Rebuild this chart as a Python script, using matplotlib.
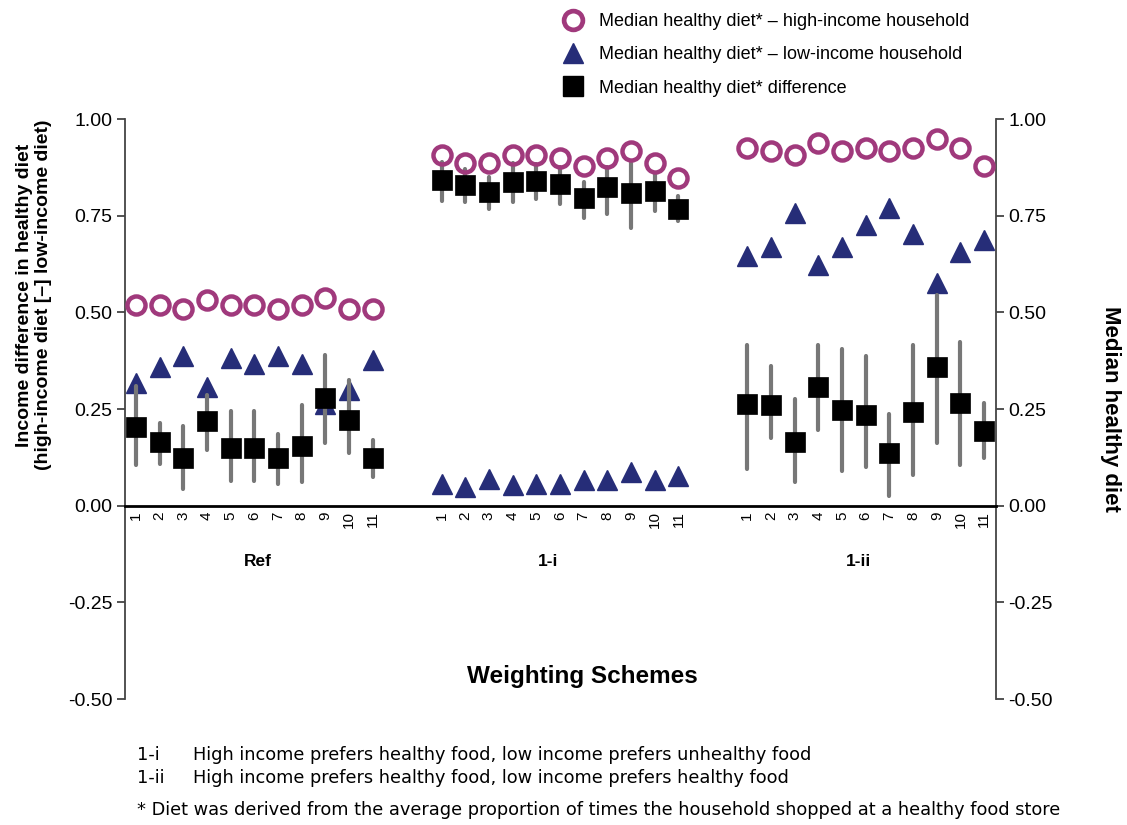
import numpy as np
from matplotlib import pyplot as plt
from matplotlib.lines import Line2D
from matplotlib.ticker import FormatStrFormatter

plt.rcParams['font.family'] = ['Liberation Sans', 'DejaVu Sans']

# %% Data ---------------------------------------------------------------------------------------------------------------
schemes = [str(i) for i in range(1, 12)]
groups = ["Ref", "1-i", "1-ii"]

# median healthy diet, high-income household
ref_high = [0.518, 0.518, 0.509, 0.533, 0.518, 0.518, 0.509, 0.518, 0.538, 0.509, 0.509]
i_high = [0.908, 0.886, 0.886, 0.908, 0.908, 0.900, 0.878, 0.900, 0.917, 0.886, 0.847]
ii_high = [0.925, 0.918, 0.907, 0.938, 0.917, 0.925, 0.917, 0.925, 0.947, 0.925, 0.878]

# median healthy diet, low-income household
ref_low = [0.316, 0.358, 0.386, 0.307, 0.382, 0.367, 0.387, 0.367, 0.264, 0.298, 0.377]
i_low = [0.057, 0.047, 0.068, 0.053, 0.056, 0.056, 0.067, 0.067, 0.086, 0.067, 0.078]
ii_low = [0.646, 0.668, 0.756, 0.622, 0.668, 0.727, 0.771, 0.702, 0.577, 0.657, 0.687]

# median difference with its range
ref_diff = [0.204, 0.164, 0.124, 0.220, 0.148, 0.148, 0.123, 0.155, 0.278, 0.222, 0.124]
ref_lo = [0.106, 0.109, 0.044, 0.143, 0.064, 0.064, 0.055, 0.060, 0.163, 0.135, 0.074]
ref_hi = [0.309, 0.215, 0.205, 0.285, 0.245, 0.245, 0.185, 0.260, 0.390, 0.326, 0.169]

i_diff = [0.843, 0.830, 0.811, 0.838, 0.840, 0.832, 0.796, 0.823, 0.808, 0.813, 0.767]
i_lo = [0.789, 0.785, 0.767, 0.785, 0.793, 0.780, 0.744, 0.755, 0.719, 0.763, 0.736]
i_hi = [0.890, 0.871, 0.850, 0.886, 0.884, 0.876, 0.837, 0.876, 0.886, 0.858, 0.800]

ii_diff = [0.263, 0.260, 0.164, 0.306, 0.248, 0.235, 0.136, 0.241, 0.359, 0.266, 0.192]
ii_lo = [0.094, 0.175, 0.060, 0.195, 0.089, 0.100, 0.024, 0.080, 0.163, 0.106, 0.124]
ii_hi = [0.416, 0.361, 0.277, 0.416, 0.406, 0.386, 0.236, 0.416, 0.544, 0.422, 0.266]

high = ref_high + i_high + ii_high
low = ref_low + i_low + ii_low
diff = ref_diff + i_diff + ii_diff
lo = ref_lo + i_lo + ii_lo
hi = ref_hi + i_hi + ii_hi

# %% Styles -------------------------------------------------------------------------------------------------------------
purple = "#A0397C"
navy = "#262D78"
whisker = "#777777"
spine = "#444444"
group_gap = 12.9
group_label_x = [5.15, 4.5, 4.7]

x = np.concatenate([np.arange(len(schemes)) + g * group_gap for g in range(len(groups))])

# %% Plot ---------------------------------------------------------------------------------------------------------------
fig = plt.figure(figsize=(11.27, 8.25), dpi=100)
ax = fig.add_axes([125 / 1127, 1 - 699 / 825, 871 / 1127, 580 / 825])

ax.plot(x, low, linestyle="none", marker="^", ms=15, color=navy, mec=navy, zorder=2)
lc = ax.vlines(x, lo, hi, color=whisker, lw=3, zorder=3)
lc.set_capstyle("round")
ax.plot(x, diff, linestyle="none", marker="s", ms=15, color="black", mec="black", mew=0.5, zorder=4)
ax.plot(x, high, linestyle="none", marker="o", ms=13, mfc="none", mec=purple, mew=3.2, zorder=5)

ax.set_xlim(-0.46, 36.3)
ax.set_ylim(-0.5, 1.0)
ax.spines["top"].set_visible(False)
ax.spines["bottom"].set_position(("data", 0))
ax.spines["bottom"].set_linewidth(2)
ax.spines["bottom"].set_color("black")
for side in ["left", "right"]:
    ax.spines[side].set_color(spine)
    ax.spines[side].set_linewidth(1.3)

ax.set_yticks([-0.5, -0.25, 0, 0.25, 0.5, 0.75, 1.0])
ax.yaxis.set_major_formatter(FormatStrFormatter("%.2f"))
ax.tick_params(axis="y", direction="out", length=6, width=1.3, color=spine, labelsize=14,
               right=True, labelright=True, pad=3)
ax.set_xticks(x)
ax.set_xticklabels(schemes * len(groups), rotation=90, fontsize=11)
ax.tick_params(axis="x", length=0, pad=4)

for g, name in enumerate(groups):
    ax.text(g * group_gap + group_label_x[g], -0.144, name, ha="center", va="center",
            fontsize=12.5, fontweight="bold")

fig.text(34 / 1127, 1 - 295 / 825, "Income difference in healthy diet\n(high-income diet [\u2013] low-income diet)",
         rotation=90, ha="center", va="center", fontsize=14, fontweight="bold", linespacing=1.15)
fig.text(1110 / 1127, 1 - 409 / 825, "Median healthy diet", rotation=270, ha="center", va="center",
         fontsize=16, fontweight="bold")
fig.text(582 / 1127, 1 - 676 / 825, "Weighting Schemes", ha="center", va="center", fontsize=17.5, fontweight="bold")

# legend
handles = [
    Line2D([], [], linestyle="none", marker="o", ms=13.5, mfc="none", mec=purple, mew=3.4),
    Line2D([], [], linestyle="none", marker="^", ms=15, color=navy),
    Line2D([], [], linestyle="none", marker="s", ms=15, color="black"),
]
labels = ["Median healthy diet* \u2013 high-income household",
          "Median healthy diet* \u2013 low-income household",
          "Median healthy diet* difference"]
fig.legend(handles, labels, loc="upper left", bbox_to_anchor=(550 / 1127, 1 - 4 / 825), frameon=False,
           fontsize=13, labelspacing=0.9, handletextpad=0.6, borderpad=0, handlelength=1.6)

# footnotes
note = dict(va="center", fontsize=12.8, family="DejaVu Sans")
fig.text(137 / 1127, 1 - 755 / 825, "1-i", **note)
fig.text(193 / 1127, 1 - 755 / 825, "High income prefers healthy food, low income prefers unhealthy food", **note)
fig.text(137 / 1127, 1 - 778 / 825, "1-ii", **note)
fig.text(193 / 1127, 1 - 778 / 825, "High income prefers healthy food, low income prefers healthy food", **note)
fig.text(137 / 1127, 1 - 810 / 825,
         "* Diet was derived from the average proportion of times the household shopped at a healthy food store",
         **note)

fig.savefig("out.png", dpi=100)
